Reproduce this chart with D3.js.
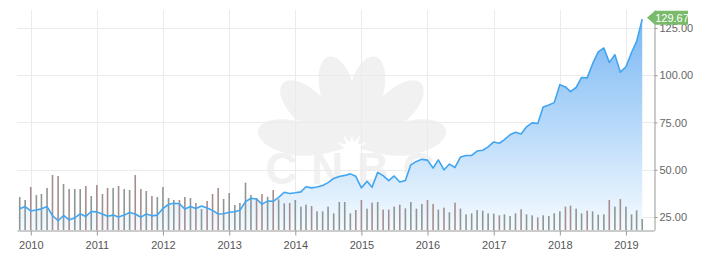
<!DOCTYPE html>
<html lang="en">
<head>
<meta charset="UTF-8">
<title>MSFT</title>
<script src="https://d3js.org/d3.v7.min.js"></script>
<style>
  body { margin: 0; background: #fff; }
  text { font-family: "Liberation Sans", Arial, sans-serif; }
</style>
</head>
<body>
<svg id="chart" width="710" height="259"></svg>
<script>
    // monthly closes, Nov 2009 .. Apr 2019
    const startMonth = new Date(2009, 10, 1);
    const closes = [
        29.4, 30.5,
        28.2, 28.7, 29.3, 30.5, 25.8, 23.0, 25.8, 23.5, 24.5, 26.7, 25.3, 27.9,
        27.7, 26.6, 25.4, 26.0, 25.0, 26.0, 27.4, 26.6, 24.9, 26.6, 25.6, 26.0,
        29.5, 31.7, 32.3, 32.0, 29.2, 30.6, 29.5, 30.8, 29.8, 28.5, 26.6, 26.7,
        27.5, 27.8, 28.6, 33.1, 34.9, 34.5, 31.8, 33.4, 33.3, 35.4, 38.1, 37.4,
        37.8, 38.3, 41.0, 40.4, 40.9, 41.7, 43.2, 45.4, 46.4, 47.0, 47.8, 46.5,
        40.4, 43.9, 40.7, 48.6, 46.9, 44.2, 46.7, 43.5, 44.3, 52.6, 54.4, 55.5,
        55.1, 50.9, 55.2, 49.9, 53.0, 51.2, 56.7, 57.5, 57.6, 59.9, 60.3, 62.1,
        64.7, 64.0, 65.9, 68.5, 69.8, 68.9, 72.7, 74.8, 74.5, 83.2, 84.2, 85.5,
        95.0, 93.8, 91.3, 93.5, 98.8, 98.6, 106.1, 112.3, 114.4, 106.8, 110.9, 101.6,
        104.4, 112.0, 117.9, 129.67
    ];
    // monthly volume, millions of shares
    const volumes = [
        990, 900,
        1290, 1050, 1080, 1260, 1650, 1620, 1380, 1230, 1230, 1230, 1320, 1020,
        1350, 1080, 1260, 1260, 1320, 1230, 1200, 1650, 1230, 1170, 1020, 990,
        1290, 960, 900, 900, 990, 960, 810, 630, 870, 1080, 1260, 930,
        1110, 750, 810, 1420, 1050, 960, 1080, 1000, 1200, 920, 800, 810,
        900, 700, 760, 720, 560, 560, 700, 500, 840, 840, 500, 600,
        900, 640, 820, 840, 610, 610, 700, 760, 650, 840, 640, 780,
        900, 780, 610, 670, 530, 820, 640, 470, 500, 600, 580, 500,
        490, 440, 470, 420, 500, 620, 470, 440, 380, 440, 420, 500,
        560, 700, 730, 640, 500, 580, 560, 460, 470, 900, 700, 930,
        700, 470, 590, 330
    ];
    const priceTicks = [25, 50, 75, 100, 125];
    const yearTicks = d3.range(2010, 2020);
    const lastLabel = "129.67";

    const data = closes.map((c, i) => ({
        date: d3.timeMonth.offset(startMonth, i),
        close: c,
        volume: volumes[i],
        up: i === 0 ? true : c >= closes[i - 1]
    }));

    const svg = d3.select('#chart');
    const plotLeft = 17, plotRight = 654, plotTop = 10, plotBottom = 230;

    let x = d3.scaleTime()
        .domain([new Date(2009, 9, 17), new Date(2019, 5, 5)])
        .range([plotLeft, plotRight]);
    let y = d3.scaleLinear().domain([18.12, 134.5]).range([plotBottom, plotTop]);
    let yVol = d3.scaleLinear().domain([0, 1800]).range([plotBottom, 170]);

    // watermark: peacock feathers + letters
    const wm = svg.append('g').attr('fill', '#f1f1f1');
    const cx = 352, cy = 150;
    [-168, -136, -104, -76, -44, -12].forEach((a) => {
        wm.append('path')
            .attr('d', 'M0,0 C10,-6 30,-17 52,-17 C74,-17 88,-9 88,0 C88,9 74,17 52,17 C30,17 10,6 0,0 Z')
            .attr('transform', `translate(${cx},${cy}) rotate(${a}) translate(8,0)`);
    });
    wm.append('text')
        .attr('x', 357).attr('y', 184)
        .attr('text-anchor', 'middle')
        .attr('font-size', 44).attr('font-weight', 'bold')
        .attr('letter-spacing', 14)
        .text('CNBC');

    // grid
    const grid = svg.append('g').attr('stroke', '#ebebeb').attr('stroke-width', 1);
    priceTicks.forEach((v) => {
        grid.append('line')
            .attr('x1', plotLeft).attr('x2', plotRight)
            .attr('y1', Math.round(y(v)) + 0.5).attr('y2', Math.round(y(v)) + 0.5);
    });
    yearTicks.forEach((yr) => {
        let px = Math.round(x(new Date(yr, 0, 1))) + 0.5;
        grid.append('line').attr('x1', px).attr('x2', px).attr('y1', plotTop).attr('y2', plotBottom);
    });

    // area gradient
    const grad = svg.append('defs').append('linearGradient')
        .attr('id', 'fade').attr('gradientUnits', 'userSpaceOnUse')
        .attr('x1', 0).attr('x2', 0).attr('y1', 18).attr('y2', plotBottom);
    grad.append('stop').attr('offset', 0).attr('stop-color', '#7ab7f3');
    grad.append('stop').attr('offset', 0.55).attr('stop-color', '#bcdcfa');
    grad.append('stop').attr('offset', 1).attr('stop-color', '#f6fbff');

    const area = d3.area()
        .x((d) => x(d.date))
        .y0(plotBottom)
        .y1((d) => y(d.close));
    svg.append('path').datum(data)
        .attr('d', area)
        .attr('fill', 'url(#fade)');

    // volume bars
    svg.append('g').selectAll('rect')
        .data(data)
        .enter().append('rect')
        .attr('x', (d) => x(d.date) - 0.8)
        .attr('width', 1.6)
        .attr('y', (d) => yVol(d.volume))
        .attr('height', (d) => plotBottom - yVol(d.volume))
        .attr('fill', (d) => d.up ? '#8d9793' : '#a68e8e');

    // price line
    const line = d3.line()
        .x((d) => x(d.date))
        .y((d) => y(d.close));
    svg.append('path').datum(data)
        .attr('d', line)
        .attr('fill', 'none')
        .attr('stroke', '#42a5ef')
        .attr('stroke-width', 1.6)
        .attr('stroke-linejoin', 'round');

    // axes
    const xAxis = svg.append('g')
        .attr('transform', `translate(0,${plotBottom + 0.5})`)
        .call(d3.axisBottom(x)
            .tickValues(yearTicks.map((yr) => new Date(yr, 0, 1)))
            .tickFormat(d3.timeFormat('%Y'))
            .tickSize(5).tickSizeOuter(0));
    xAxis.select('.domain').attr('stroke', '#999');
    xAxis.selectAll('.tick line').attr('stroke', '#999');
    xAxis.selectAll('.tick text')
        .attr('fill', '#555').attr('font-size', 11)
        .attr('font-family', '"Liberation Sans", Arial, sans-serif')
        .attr('dy', '0.95em');

    const yAxis = svg.append('g')
        .attr('transform', `translate(${plotRight + 0.5},0)`)
        .call(d3.axisRight(y)
            .tickValues(priceTicks)
            .tickFormat(d3.format('.2f'))
            .tickSize(3).tickSizeOuter(0));
    yAxis.select('.domain').attr('stroke', '#999');
    yAxis.selectAll('.tick line').attr('stroke', '#999');
    yAxis.selectAll('.tick text')
        .attr('fill', '#666').attr('font-size', 11)
        .attr('font-family', '"Liberation Sans", Arial, sans-serif')
        .attr('x', 5);

    // last price tag (sits over the top tick label, as in the source chart)
    let last = data[data.length - 1];
    let ty = y(last.close) - 1.5;
    let tx = plotRight - 7;
    svg.append('path')
        .attr('d', `M${tx},${ty} L${tx + 8},${ty - 7} L${tx + 41},${ty - 7} L${tx + 41},${ty + 7} L${tx + 8},${ty + 7} Z`)
        .attr('fill', '#79bb6a');
    svg.append('text')
        .attr('x', tx + 25).attr('y', ty + 4)
        .attr('text-anchor', 'middle')
        .attr('fill', '#fff').attr('font-size', 11)
        .text(lastLabel);
</script>
</body>
</html>
